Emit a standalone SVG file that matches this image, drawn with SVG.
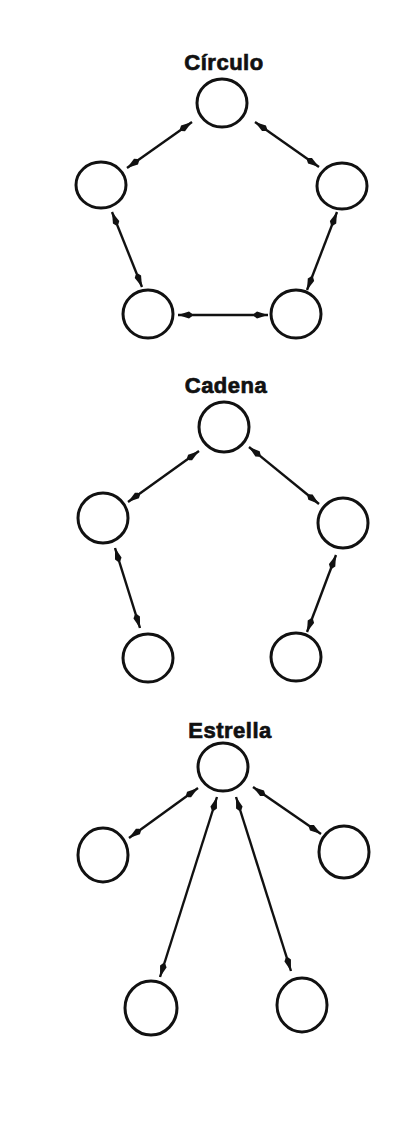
<svg xmlns="http://www.w3.org/2000/svg" width="404" height="1126" viewBox="0 0 404 1126">
<style>
.n{fill:none;stroke:#111;stroke-width:3}
.c line{stroke:#111;stroke-width:2.4;marker-start:url(#ah);marker-end:url(#ah)}
.t{font-family:"Liberation Sans",Arial,sans-serif;font-weight:bold;font-size:22px;fill:#111;stroke:#111;stroke-width:0.7;text-anchor:middle;letter-spacing:0.5px}
</style>
<defs>
<marker id="ah" markerUnits="userSpaceOnUse" markerWidth="16" markerHeight="10" viewBox="0 -5 16 10" refX="14" refY="0" orient="auto-start-reverse">
<path d="M0,-1.2 L3,-3.4 L14,0 L3,3.4 L0,1.2 z" fill="#111"/>
</marker>
</defs>
<rect width="404" height="1126" fill="#fff"/>
<text class="t" x="224" y="70">Círculo</text>
<text class="t" x="226" y="393">Cadena</text>
<text class="t" x="230" y="738">Estrella</text>
<g class="c" id="connectors">
<line x1="192" y1="122" x2="127" y2="168"/>
<line x1="255" y1="122" x2="319" y2="167"/>
<line x1="112" y1="212" x2="142" y2="287"/>
<line x1="337" y1="212" x2="307" y2="290"/>
<line x1="178" y1="315" x2="268" y2="315"/>
<line x1="199" y1="451" x2="128" y2="502"/>
<line x1="249" y1="447" x2="319" y2="504"/>
<line x1="115" y1="548" x2="140" y2="628"/>
<line x1="336" y1="555" x2="307" y2="632"/>
<line x1="198" y1="788" x2="129" y2="838"/>
<line x1="253" y1="787" x2="321" y2="834"/>
<line x1="217" y1="797" x2="160" y2="977"/>
<line x1="236" y1="797" x2="291" y2="971"/>
</g>
<g id="circulo-top"><ellipse class="n" cx="222" cy="103" rx="25" ry="24"/></g>
<g id="circulo-left"><ellipse class="n" cx="101" cy="185" rx="25" ry="23"/></g>
<g id="circulo-right"><ellipse class="n" cx="342" cy="186" rx="25" ry="23"/></g>
<g id="circulo-bl"><ellipse class="n" cx="148" cy="314" rx="25" ry="24"/></g>
<g id="circulo-br"><ellipse class="n" cx="296" cy="314" rx="25" ry="24"/></g>
<g id="cadena-top"><ellipse class="n" cx="224" cy="427" rx="25" ry="25"/></g>
<g id="cadena-left"><ellipse class="n" cx="103" cy="518" rx="25" ry="25"/></g>
<g id="cadena-right"><ellipse class="n" cx="343" cy="523" rx="25" ry="25"/></g>
<g id="cadena-bl"><ellipse class="n" cx="148" cy="658" rx="25" ry="24"/></g>
<g id="cadena-br"><ellipse class="n" cx="296" cy="657" rx="25" ry="24"/></g>
<g id="estrella-top"><ellipse class="n" cx="223" cy="767" rx="25" ry="24"/></g>
<g id="estrella-left"><ellipse class="n" cx="103" cy="855" rx="25" ry="27"/></g>
<g id="estrella-right"><ellipse class="n" cx="344" cy="852" rx="25" ry="26"/></g>
<g id="estrella-bl"><ellipse class="n" cx="151" cy="1008" rx="26" ry="27"/></g>
<g id="estrella-br"><ellipse class="n" cx="302" cy="1005" rx="25" ry="27"/></g>
</svg>
